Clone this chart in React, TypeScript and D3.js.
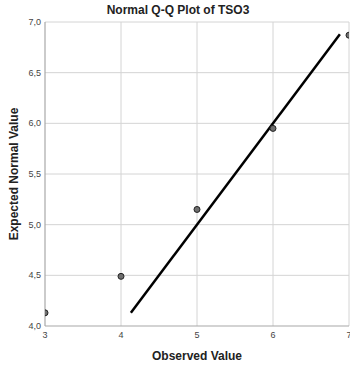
import React from "react";
import * as d3 from "d3";

const observed = [3, 4, 5, 6, 7];
const expected = [4.13, 4.49, 5.15, 5.95, 6.87];
const lineRange = [4.13, 6.88];
const xTicks = [3, 4, 5, 6, 7];
const yTicks = [4.0, 4.5, 5.0, 5.5, 6.0, 6.5, 7.0];

export default function App() {
  const W = 350, H = 367;
  const left = 45, right = 349, top = 22, bottom = 326;
  const x = d3.scaleLinear().domain([3, 7]).range([left, right]);
  const y = d3.scaleLinear().domain([4, 7]).range([bottom, top]);
  const fmt = (v: number) => d3.format(".1f")(v).replace(".", ",");
  const line = d3.line<number>().x((d) => x(d)).y((d) => y(d));
  const font = "Arial, 'Liberation Sans', sans-serif";
  return (
    <svg width={W} height={H} style={{ position: "absolute", left: 0, top: 0 }} fontFamily={font}>
      <rect width={W} height={H} fill="#fff" />
      <defs>
        <clipPath id="plot">
          <rect x={left} y={top} width={right - left} height={bottom - top} />
        </clipPath>
      </defs>
      {xTicks.slice(1).map((t) => (
        <line key={"gx" + t} x1={x(t)} x2={x(t)} y1={top} y2={bottom} stroke="#d4d4d4" strokeWidth={1} />
      ))}
      {yTicks.slice(1).map((t) => (
        <line key={"gy" + t} x1={left} x2={right} y1={y(t)} y2={y(t)} stroke="#d4d4d4" strokeWidth={1} />
      ))}
      <line x1={left} x2={left} y1={top} y2={bottom} stroke="#a8a8a8" strokeWidth={1.2} />
      <line x1={left} x2={right} y1={bottom} y2={bottom} stroke="#a8a8a8" strokeWidth={1.2} />
      <g clipPath="url(#plot)">
        <path d={line(lineRange) || ""} stroke="#000" strokeWidth={2.5} fill="none" />
        {observed.map((o, i) => (
          <circle key={i} cx={x(o)} cy={y(expected[i])} r={3} fill="#6e6e6e" stroke="#222" strokeWidth={1} />
        ))}
      </g>
      {yTicks.map((t) => (
        <text key={"ty" + t} x={left - 4} y={y(t) + 3} textAnchor="end" fontSize={9} fill="#444">
          {fmt(t)}
        </text>
      ))}
      {xTicks.map((t) => (
        <text key={"tx" + t} x={x(t)} y={bottom + 12} textAnchor="middle" fontSize={9} fill="#444">
          {t}
        </text>
      ))}
      <text x={178} y={14} textAnchor="middle" fontSize={12} fontWeight="bold" fill="#222">
        Normal Q-Q Plot of TSO3
      </text>
      <text x={197} y={360} textAnchor="middle" fontSize={12} fontWeight="bold" fill="#222">
        Observed Value
      </text>
      <text transform={`translate(18,${(top + bottom) / 2}) rotate(-90)`} textAnchor="middle" fontSize={12} fontWeight="bold" fill="#222">
        Expected Normal Value
      </text>
    </svg>
  );
}
